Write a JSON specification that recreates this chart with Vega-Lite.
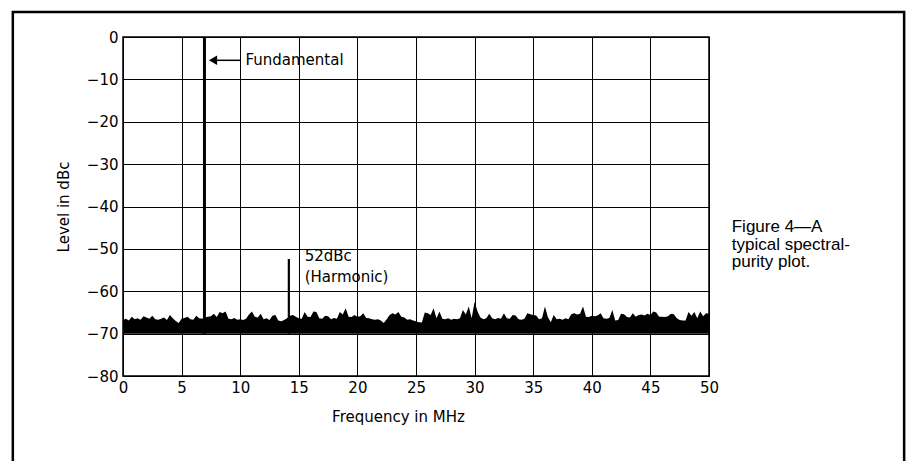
{
  "$schema": "https://vega.github.io/schema/vega-lite/v6.json",
  "width": 586,
  "height": 339,
  "autosize": {"type": "none"},
  "padding": {"left": 123, "top": 37, "right": 198, "bottom": 85},
  "background": "white",
  "config": {
    "view": {"stroke": "black", "strokeWidth": 1.5},
    "axis": {
      "domain": false,
      "ticks": false,
      "grid": true,
      "gridColor": "black",
      "gridOpacity": 1,
      "gridWidth": 1,
      "labelColor": "black",
      "labelFont": "DejaVu Sans",
      "labelFontSize": 15,
      "labelFlush": false,
      "titleColor": "black",
      "titleFont": "DejaVu Sans",
      "titleFontSize": 15,
      "titleFontWeight": "normal"
    }
  },
  "datasets": {
    "noise": [
      {"f":0,"level":-66.8},{"f":0.25,"level":-66.5},{"f":0.5,"level":-66.9},{"f":0.75,"level":-66.0},
      {"f":1,"level":-66.6},{"f":1.25,"level":-66.4},{"f":1.5,"level":-66.7},{"f":1.75,"level":-65.9},
      {"f":2,"level":-66.2},{"f":2.25,"level":-66.5},{"f":2.5,"level":-65.8},{"f":2.75,"level":-66.6},
      {"f":3,"level":-66.7},{"f":3.25,"level":-66.5},{"f":3.5,"level":-66.2},{"f":3.75,"level":-66.8},
      {"f":4,"level":-65.6},{"f":4.25,"level":-66.4},{"f":4.5,"level":-67.0},{"f":4.75,"level":-67.5},
      {"f":5,"level":-66.5},{"f":5.25,"level":-66.3},{"f":5.5,"level":-66.0},{"f":5.75,"level":-66.6},
      {"f":6,"level":-66.7},{"f":6.25,"level":-65.8},{"f":6.5,"level":-66.4},{"f":6.75,"level":-66.5},
      {"f":7,"level":-66.2},{"f":7.25,"level":-66.0},{"f":7.5,"level":-65.9},{"f":7.75,"level":-65.3},
      {"f":8,"level":-66.1},{"f":8.25,"level":-64.9},{"f":8.5,"level":-65.2},{"f":8.75,"level":-64.8},
      {"f":9,"level":-66.5},{"f":9.25,"level":-66.6},{"f":9.5,"level":-66.3},{"f":9.75,"level":-66.7},
      {"f":10,"level":-66.6},{"f":10.25,"level":-66.8},{"f":10.5,"level":-66.5},{"f":10.75,"level":-65.5},
      {"f":11,"level":-64.8},{"f":11.25,"level":-66.0},{"f":11.5,"level":-66.2},{"f":11.75,"level":-65.3},
      {"f":12,"level":-66.6},{"f":12.25,"level":-66.4},{"f":12.5,"level":-66.8},{"f":12.75,"level":-65.8},
      {"f":13,"level":-65.6},{"f":13.25,"level":-66.9},{"f":13.5,"level":-67.1},{"f":13.75,"level":-66.8},
      {"f":14,"level":-66.4},{"f":14.25,"level":-65.8},{"f":14.5,"level":-65.6},{"f":14.75,"level":-66.0},
      {"f":15,"level":-66.4},{"f":15.25,"level":-66.5},{"f":15.5,"level":-64.9},{"f":15.75,"level":-66.0},
      {"f":16,"level":-66.1},{"f":16.25,"level":-64.8},{"f":16.5,"level":-64.9},{"f":16.75,"level":-66.4},
      {"f":17,"level":-66.5},{"f":17.25,"level":-65.8},{"f":17.5,"level":-65.9},{"f":17.75,"level":-66.6},
      {"f":18,"level":-66.3},{"f":18.25,"level":-66.5},{"f":18.5,"level":-64.9},{"f":18.75,"level":-65.5},
      {"f":19,"level":-64.0},{"f":19.25,"level":-66.0},{"f":19.5,"level":-66.1},{"f":19.75,"level":-65.6},
      {"f":20,"level":-66.0},{"f":20.25,"level":-65.9},{"f":20.5,"level":-65.2},{"f":20.75,"level":-66.3},
      {"f":21,"level":-66.4},{"f":21.25,"level":-66.6},{"f":21.5,"level":-66.7},{"f":21.75,"level":-66.6},
      {"f":22,"level":-66.9},{"f":22.25,"level":-67.5},{"f":22.5,"level":-66.6},{"f":22.75,"level":-65.6},
      {"f":23,"level":-65.2},{"f":23.25,"level":-65.5},{"f":23.5,"level":-64.9},{"f":23.75,"level":-66.0},
      {"f":24,"level":-66.2},{"f":24.25,"level":-66.7},{"f":24.5,"level":-66.6},{"f":24.75,"level":-66.9},
      {"f":25,"level":-67.1},{"f":25.25,"level":-67.3},{"f":25.5,"level":-67.4},{"f":25.75,"level":-65.0},
      {"f":26,"level":-65.2},{"f":26.25,"level":-65.6},{"f":26.5,"level":-64.0},{"f":26.75,"level":-66.4},
      {"f":27,"level":-64.8},{"f":27.25,"level":-66.5},{"f":27.5,"level":-66.6},{"f":27.75,"level":-66.4},
      {"f":28,"level":-66.7},{"f":28.25,"level":-66.5},{"f":28.5,"level":-66.6},{"f":28.75,"level":-66.4},
      {"f":29,"level":-64.4},{"f":29.25,"level":-65.5},{"f":29.5,"level":-63.6},{"f":29.75,"level":-66.4},
      {"f":30,"level":-62.5},{"f":30.25,"level":-64.8},{"f":30.5,"level":-66.2},{"f":30.75,"level":-66.6},
      {"f":31,"level":-66.4},{"f":31.25,"level":-65.3},{"f":31.5,"level":-66.4},{"f":31.75,"level":-66.6},
      {"f":32,"level":-66.3},{"f":32.25,"level":-66.5},{"f":32.5,"level":-65.2},{"f":32.75,"level":-66.4},
      {"f":33,"level":-66.5},{"f":33.25,"level":-65.6},{"f":33.5,"level":-65.7},{"f":33.75,"level":-66.6},
      {"f":34,"level":-66.7},{"f":34.25,"level":-66.5},{"f":34.5,"level":-65.2},{"f":34.75,"level":-65.4},
      {"f":35,"level":-65.6},{"f":35.25,"level":-65.7},{"f":35.5,"level":-66.6},{"f":35.75,"level":-66.4},
      {"f":36,"level":-63.6},{"f":36.25,"level":-66.1},{"f":36.5,"level":-67.3},{"f":36.75,"level":-65.6},
      {"f":37,"level":-66.6},{"f":37.25,"level":-66.5},{"f":37.5,"level":-66.7},{"f":37.75,"level":-66.4},
      {"f":38,"level":-66.6},{"f":38.25,"level":-65.4},{"f":38.5,"level":-65.2},{"f":38.75,"level":-65.5},
      {"f":39,"level":-65.3},{"f":39.25,"level":-63.6},{"f":39.5,"level":-66.0},{"f":39.75,"level":-66.1},
      {"f":40,"level":-65.8},{"f":40.25,"level":-65.9},{"f":40.5,"level":-65.7},{"f":40.75,"level":-65.2},
      {"f":41,"level":-66.4},{"f":41.25,"level":-66.5},{"f":41.5,"level":-66.3},{"f":41.75,"level":-64.4},
      {"f":42,"level":-66.9},{"f":42.25,"level":-66.8},{"f":42.5,"level":-65.3},{"f":42.75,"level":-65.4},
      {"f":43,"level":-66.1},{"f":43.25,"level":-66.2},{"f":43.5,"level":-65.2},{"f":43.75,"level":-66.0},
      {"f":44,"level":-65.6},{"f":44.25,"level":-65.5},{"f":44.5,"level":-65.7},{"f":44.75,"level":-65.3},
      {"f":45,"level":-65.6},{"f":45.25,"level":-64.8},{"f":45.5,"level":-65.0},{"f":45.75,"level":-66.0},
      {"f":46,"level":-66.0},{"f":46.25,"level":-66.1},{"f":46.5,"level":-65.9},{"f":46.75,"level":-65.3},
      {"f":47,"level":-65.4},{"f":47.25,"level":-66.4},{"f":47.5,"level":-66.8},{"f":47.75,"level":-66.9},
      {"f":48,"level":-66.9},{"f":48.25,"level":-64.9},{"f":48.5,"level":-65.8},{"f":48.75,"level":-64.9},
      {"f":49,"level":-66.4},{"f":49.25,"level":-64.8},{"f":49.5,"level":-65.9},{"f":49.75,"level":-65.2},
      {"f":50,"level":-65.3}
    ]
  },
  "layer": [
    {
      "data": {"name": "noise"},
      "mark": {"type": "area", "color": "black", "interpolate": "linear"},
      "encoding": {
        "x": {
          "field": "f", "type": "quantitative",
          "scale": {"domain": [0, 50], "nice": false, "zero": false},
          "axis": {"values": [0,5,10,15,20,25,30,35,40,45,50], "title": "Frequency in MHz", "labelPadding": 4, "titlePadding": 14, "titleX": 275}
        },
        "y": {
          "field": "level", "type": "quantitative",
          "scale": {"domain": [-80, 0], "nice": false, "zero": false},
          "axis": {"values": [-80,-70,-60,-50,-40,-30,-20,-10,0], "title": "Level in dBc", "labelPadding": 5, "titlePadding": 15}
        },
        "y2": {"datum": -70}
      }
    },
    {
      "data": {"values": [{"f": 6.95, "top": 0, "bottom": -70}]},
      "mark": {"type": "rule", "color": "black", "strokeWidth": 3},
      "encoding": {
        "x": {"field": "f", "type": "quantitative"},
        "y": {"field": "top", "type": "quantitative"},
        "y2": {"field": "bottom"}
      }
    },
    {
      "data": {"values": [{"f": 14.15, "top": -52.4, "bottom": -70}]},
      "mark": {"type": "rule", "color": "black", "strokeWidth": 2.2},
      "encoding": {
        "x": {"field": "f", "type": "quantitative"},
        "y": {"field": "top", "type": "quantitative"},
        "y2": {"field": "bottom"}
      }
    },
    {
      "data": {"values": [{"from": 7.6, "to": 10.0, "level": -5.5}]},
      "mark": {"type": "rule", "color": "black", "strokeWidth": 1.5},
      "encoding": {
        "x": {"field": "from", "type": "quantitative"},
        "x2": {"field": "to"},
        "y": {"field": "level", "type": "quantitative"}
      }
    },
    {
      "data": {"values": [{"f": 7.68, "level": -5.5}]},
      "mark": {"type": "point", "shape": "triangle-left", "filled": true, "color": "black", "size": 90, "opacity": 1},
      "encoding": {
        "x": {"field": "f", "type": "quantitative"},
        "y": {"field": "level", "type": "quantitative"}
      }
    },
    {
      "data": {"values": [
        {"f": 10.45, "level": -5.4, "label": "Fundamental"},
        {"f": 15.5, "level": -51.6, "label": "52dBc"},
        {"f": 15.5, "level": -56.6, "label": "(Harmonic)"}
      ]},
      "mark": {"type": "text", "font": "DejaVu Sans", "fontSize": 15, "color": "black", "align": "left", "baseline": "middle"},
      "encoding": {
        "x": {"field": "f", "type": "quantitative"},
        "y": {"field": "level", "type": "quantitative"},
        "text": {"field": "label"}
      }
    },
    {
      "data": {"values": [
        {"f": 51.94, "level": -44.8, "label": "Figure 4\u2014A"},
        {"f": 51.94, "level": -49.0, "label": "typical spectral-"},
        {"f": 51.94, "level": -53.2, "label": "purity plot."}
      ]},
      "mark": {"type": "text", "font": "Liberation Sans", "fontSize": 17, "color": "black", "align": "left", "baseline": "middle"},
      "encoding": {
        "x": {"field": "f", "type": "quantitative"},
        "y": {"field": "level", "type": "quantitative"},
        "text": {"field": "label"}
      }
    },
    {
      "data": {"values": [{"left": -9.4, "right": 66.65, "top": 5.9, "bottom": -110}]},
      "mark": {"type": "rect", "filled": false, "stroke": "black", "strokeWidth": 2.5},
      "encoding": {
        "x": {"field": "left", "type": "quantitative"},
        "x2": {"field": "right"},
        "y": {"field": "top", "type": "quantitative"},
        "y2": {"field": "bottom"}
      }
    }
  ]
}
